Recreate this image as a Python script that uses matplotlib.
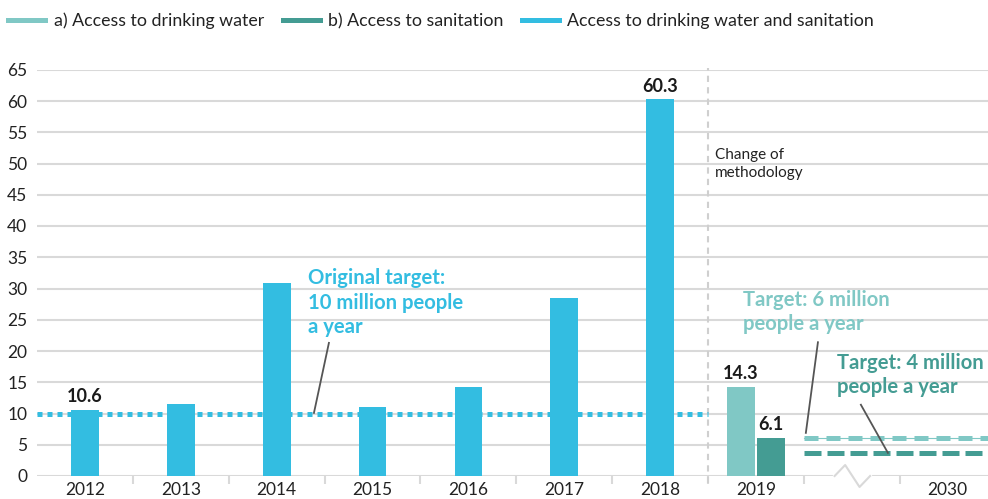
import matplotlib
matplotlib.use("Agg")
import matplotlib.pyplot as plt
from matplotlib.lines import Line2D

plt.rcParams['font.family'] = ['Lato', 'DejaVu Sans']

# data
years = ['2012', '2013', '2014', '2015', '2016', '2017', '2018']
combined = [10.6, 11.6, 30.9, 11.0, 14.2, 28.5, 60.3]
water_2019 = 14.3
sanitation_2019 = 6.1
tick_labels = years + ['2019', '', '2030']
old_target = 10
water_target = 6.1
sanitation_target = 3.7

BLUE = '#33bde1'
LTEAL = '#80c8c5'
DTEAL = '#449c93'
GRID = '#d9d9d9'
INK = '#222222'

fig = plt.figure(figsize=(9.88, 4.99), dpi=100)
ax = fig.add_axes([37 / 988, 23 / 499, 951 / 988, 406.25 / 499])

x = list(range(len(years)))
ax.bar(x, combined, width=0.29, color=BLUE, zorder=3)
ax.bar(7 - 0.16, water_2019, width=0.29, color=LTEAL, zorder=3)
ax.bar(7 + 0.16, sanitation_2019, width=0.29, color=DTEAL, zorder=3)

lbl = dict(ha='center', va='bottom', fontsize=13, fontweight='bold', color='#1a1a1a', zorder=5)
ax.text(0, combined[0] + 0.7, '10.6', **lbl)
ax.text(6, combined[6] + 0.7, '60.3', **lbl)
ax.text(7 - 0.16, water_2019 + 0.7, '14.3', **lbl)
ax.text(7 + 0.16, sanitation_2019 + 0.7, '6.1', **lbl)

# target lines
ax.plot([-0.5, 6.5], [old_target] * 2, color=BLUE, lw=3.6,
        linestyle=(0, (1, 1)), dash_capstyle='butt', zorder=4)
ax.plot([7.5, 9.42], [water_target] * 2, color=LTEAL, lw=0.8, zorder=4)
ax.plot([7.5, 9.42], [water_target] * 2, color=LTEAL, lw=3.6,
        linestyle=(0, (2.8, 1.6)), dash_capstyle='butt', zorder=4)
ax.plot([7.5, 9.42], [sanitation_target] * 2, color=DTEAL, lw=3.6,
        linestyle=(0, (3.4, 1.2)), dash_capstyle='butt', zorder=4)

# methodology divider
ax.plot([6.5, 6.5], [-1.1, 65.3], color='#cfcfcf', lw=1.5,
        linestyle=(0, (3, 2.5)), clip_on=False, zorder=2)
ax.text(6.57, 49.9, 'Change of\nmethodology', fontsize=11, color=INK,
        va='center', ha='left', linespacing=1.3)

# annotations
ann = dict(fontsize=14.6, fontweight='bold', va='center', ha='left', linespacing=1.28)
ax.text(2.326, 27.7, 'Original target:\n10 million people\na year', color=BLUE, **ann)
ax.plot([2.545, 2.389], [21.3, 10.1], color='#555555', lw=1.3, zorder=5)

ax.text(6.863, 26.2, 'Target: 6 million\npeople a year', color=LTEAL, **ann)
ax.plot([7.646, 7.52], [21.4, 6.9], color='#555555', lw=1.3, zorder=5)

ax.text(7.85, 16.2, 'Target: 4 million\npeople a year', color=DTEAL, **ann)
ax.plot([8.094, 8.376], [11.4, 3.7], color='#555555', lw=1.3, zorder=5)

# axes styling
ax.set_xlim(-0.5, 9.42)
ax.set_ylim(0, 65)
ax.set_yticks(range(0, 70, 5))
ax.yaxis.grid(True, color=GRID, lw=1.5, zorder=0)
ax.set_axisbelow(True)
for s in ax.spines.values():
    s.set_visible(False)
ax.tick_params(axis='y', length=0, labelsize=12.5, labelcolor=INK, pad=7)
ax.set_xticks(range(len(tick_labels)))
ax.set_xticklabels(tick_labels)
ax.tick_params(axis='x', length=0, labelsize=12.5, labelcolor=INK, pad=4)
ax.set_xticks([k + 0.5 for k in range(9)], minor=True)
ax.tick_params(axis='x', which='minor', length=6, width=1.5, color=GRID)

# axis break zigzag on the zero line
ax.plot([7.82, 8.19], [0, 0], color='white', lw=3, clip_on=False, zorder=6)
ax.plot([7.82, 7.93, 8.08, 8.19], [0, 1.76, -1.76, 0], color=GRID, lw=1.5,
        clip_on=False, zorder=7)

# legend
items = [(8, 45, 54, LTEAL, 'a) Access to drinking water'),
         (283, 320, 328, DTEAL, 'b) Access to sanitation'),
         (522, 559, 567, BLUE, 'Access to drinking water and sanitation')]
for x0, x1, tx, col, txt in items:
    fig.add_artist(Line2D([x0 / 988, x1 / 988], [1 - 20 / 499] * 2, color=col, lw=3.6))
    fig.text(tx / 988, 1 - 21 / 499, txt, fontsize=12.8, color=INK, va='center', ha='left')

fig.savefig('out.png', dpi=100)
